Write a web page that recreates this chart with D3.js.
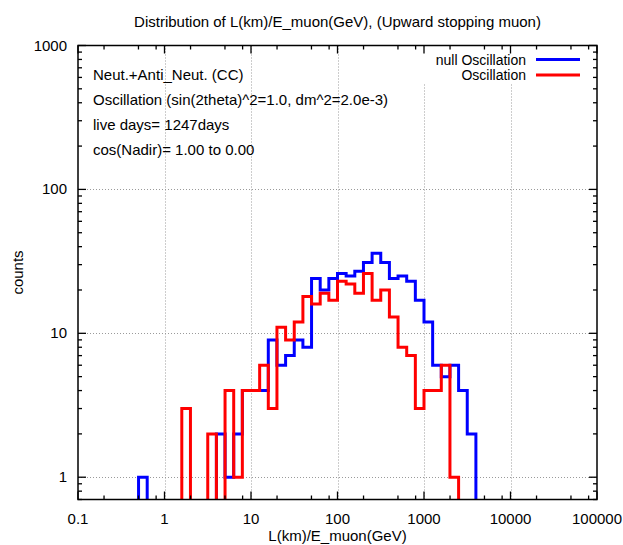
<!DOCTYPE html>
<html>
<head>
<meta charset="utf-8">
<script src="https://cdn.jsdelivr.net/npm/d3@7"></script>
<style>
  html, body { margin: 0; padding: 0; background: #fff; }
  svg { display: block; }
  text { font-family: "Liberation Sans", Arial, Helvetica, sans-serif; font-size: 15px; fill: #000; }
</style>
</head>
<body>
<svg id="chart" width="623" height="545"></svg>
<script>
// ---- data ----
const binLogStart = [-0.3, -0.2, -0.1, 0.0, 0.1, 0.2, 0.3, 0.4, 0.5, 0.6,
                     0.7, 0.8, 0.9, 1.0, 1.1, 1.2, 1.3, 1.4, 1.5, 1.6,
                     1.7, 1.8, 1.9, 2.0, 2.1, 2.2, 2.3, 2.4, 2.5, 2.6,
                     2.7, 2.8, 2.9, 3.0, 3.1, 3.2, 3.3, 3.4, 3.5];
const binLogWidth = 0.1;
const nullOscillation = [1, 0, 0, 0, 0, 0, 0, 0, 0, 2,
                         1, 2, 4, 4, 4, 9, 6, 7, 9, 8,
                         24, 20, 24, 26, 25, 27, 31, 36, 31, 24,
                         25, 23, 17, 12, 6, 5, 6, 4, 2];
const oscillation = [0, 0, 0, 0, 0, 3, 0, 0, 2, 0,
                     4, 1, 4, 4, 6, 3, 11, 9, 12, 18,
                     16, 19, 17, 23, 22, 19, 26, 17, 20, 13,
                     8, 7, 3, 4, 4, 6, 1, 0, 0];
const xTickValues = [0.1, 1, 10, 100, 1000, 10000, 100000];
const xTickLabels = ["0.1", "1", "10", "100", "1000", "10000", "100000"];
const yTickValues = [1, 10, 100, 1000];
const yTickLabels = ["1", "10", "100", "1000"];
const seriesNames = ["null Oscillation", "Oscillation"];
const seriesColors = ["#0000ff", "#ff0000"];
const titleText = "Distribution of L(km)/E_muon(GeV), (Upward stopping muon)";
const xLabel = "L(km)/E_muon(GeV)";
const yLabel = "counts";
const infoLines = ["Neut.+Anti_Neut. (CC)",
                   "Oscillation (sin(2theta)^2=1.0, dm^2=2.0e-3)",
                   "live days= 1247days",
                   "cos(Nadir)= 1.00 to 0.00"];

// ---- layout ----
const L = 78, R = 597, T = 45.5, B = 499.5;
const svg = d3.select("#chart");
const x = d3.scaleLog().domain([0.1, 100000]).range([L, R]);
const y = d3.scaleLog().domain([0.7, 1000]).range([B, T]);

// grid
const grid = svg.append("g").attr("stroke", "#9a9a9a").attr("stroke-width", 1)
  .attr("stroke-dasharray", "1,2");
xTickValues.slice(1, -1).forEach(v => {
  grid.append("line").attr("x1", Math.round(x(v)) + 0.5).attr("x2", Math.round(x(v)) + 0.5)
    .attr("y1", T).attr("y2", B);
});
yTickValues.slice(0, -1).forEach(v => {
  grid.append("line").attr("x1", L).attr("x2", R)
    .attr("y1", Math.round(y(v)) + 0.5).attr("y2", Math.round(y(v)) + 0.5);
});
// key area clears grid
svg.append("rect").attr("x", 345).attr("y", T + 1).attr("width", R - 345 - 1).attr("height", 83 - T - 1)
  .attr("fill", "#fff");

// histograms
svg.append("clipPath").attr("id", "clip").append("rect")
  .attr("x", L).attr("y", T).attr("width", R - L).attr("height", B - T);
function stepPath(vals) {
  const below = B + 6;
  let d = "";
  binLogStart.forEach((lg, i) => {
    const x0 = x(Math.pow(10, lg)), x1 = x(Math.pow(10, lg + binLogWidth));
    const yy = vals[i] > 0 ? y(vals[i]) : below;
    if (i === 0) d += `M${x0},${below}`;
    d += `L${x0},${yy}L${x1},${yy}`;
  });
  const lastX = x(Math.pow(10, binLogStart[binLogStart.length - 1] + binLogWidth));
  d += `L${lastX},${below}`;
  return d;
}
const hg = svg.append("g").attr("clip-path", "url(#clip)");
[nullOscillation, oscillation].forEach((vals, k) => {
  hg.append("path").attr("d", stepPath(vals)).attr("fill", "none")
    .attr("stroke", seriesColors[k]).attr("stroke-width", 3)
    .attr("stroke-linejoin", "miter");
});

// axes with inward ticks (mirrored)
const minorX = [];
for (let e = -1; e < 5; e++) [2, 5, 8].forEach(m => minorX.push(m * Math.pow(10, e)));
const minorY = [];
for (let e = -1; e < 3; e++) [2, 3, 4, 5, 6, 7, 8, 9].forEach(m => {
  const v = m * Math.pow(10, e);
  if (v > 0.7 && v < 1000) minorY.push(v);
});
const ax = svg.append("g").attr("stroke", "#000").attr("stroke-width", 1.3);
xTickValues.forEach(v => {
  const px = x(v);
  ax.append("line").attr("x1", px).attr("x2", px).attr("y1", B).attr("y2", B - 8);
  ax.append("line").attr("x1", px).attr("x2", px).attr("y1", T).attr("y2", T + 8);
});
minorX.forEach(v => {
  const px = x(v);
  ax.append("line").attr("x1", px).attr("x2", px).attr("y1", B).attr("y2", B - 4);
  ax.append("line").attr("x1", px).attr("x2", px).attr("y1", T).attr("y2", T + 4);
});
yTickValues.forEach(v => {
  const py = y(v);
  ax.append("line").attr("x1", L).attr("x2", L + 8).attr("y1", py).attr("y2", py);
  ax.append("line").attr("x1", R).attr("x2", R - 8).attr("y1", py).attr("y2", py);
});
minorY.forEach(v => {
  const py = y(v);
  ax.append("line").attr("x1", L).attr("x2", L + 4).attr("y1", py).attr("y2", py);
  ax.append("line").attr("x1", R).attr("x2", R - 4).attr("y1", py).attr("y2", py);
});
svg.append("rect").attr("x", L).attr("y", T).attr("width", R - L).attr("height", B - T)
  .attr("fill", "none").attr("stroke", "#000").attr("stroke-width", 1.5);

// tick labels
xTickValues.forEach((v, i) => {
  svg.append("text").attr("x", x(v)).attr("y", B + 24).attr("text-anchor", "middle").text(xTickLabels[i]);
});
yTickValues.forEach((v, i) => {
  svg.append("text").attr("x", L - 11).attr("y", y(v) + 5).attr("text-anchor", "end").text(yTickLabels[i]);
});

// titles
svg.append("text").attr("x", (L + R) / 2).attr("y", 27).attr("text-anchor", "middle").text(titleText);
svg.append("text").attr("x", (L + R) / 2).attr("y", 541).attr("text-anchor", "middle").text(xLabel);
svg.append("text").attr("transform", `translate(23,${(T + B) / 2}) rotate(-90)`)
  .attr("text-anchor", "middle").text(yLabel);

// info lines
infoLines.forEach((s, i) => {
  svg.append("text").attr("x", 93).attr("y", 80 + i * 25).text(s);
});

// legend
seriesNames.forEach((s, i) => {
  const ly = 59.5 + i * 15.5;
  svg.append("text").attr("x", 526).attr("y", ly + 5).attr("text-anchor", "end")
    .style("font-size", "14px").text(s);
  svg.append("line").attr("x1", 536).attr("x2", 580).attr("y1", ly).attr("y2", ly)
    .attr("stroke", seriesColors[i]).attr("stroke-width", 3);
});
</script>
</body>
</html>
